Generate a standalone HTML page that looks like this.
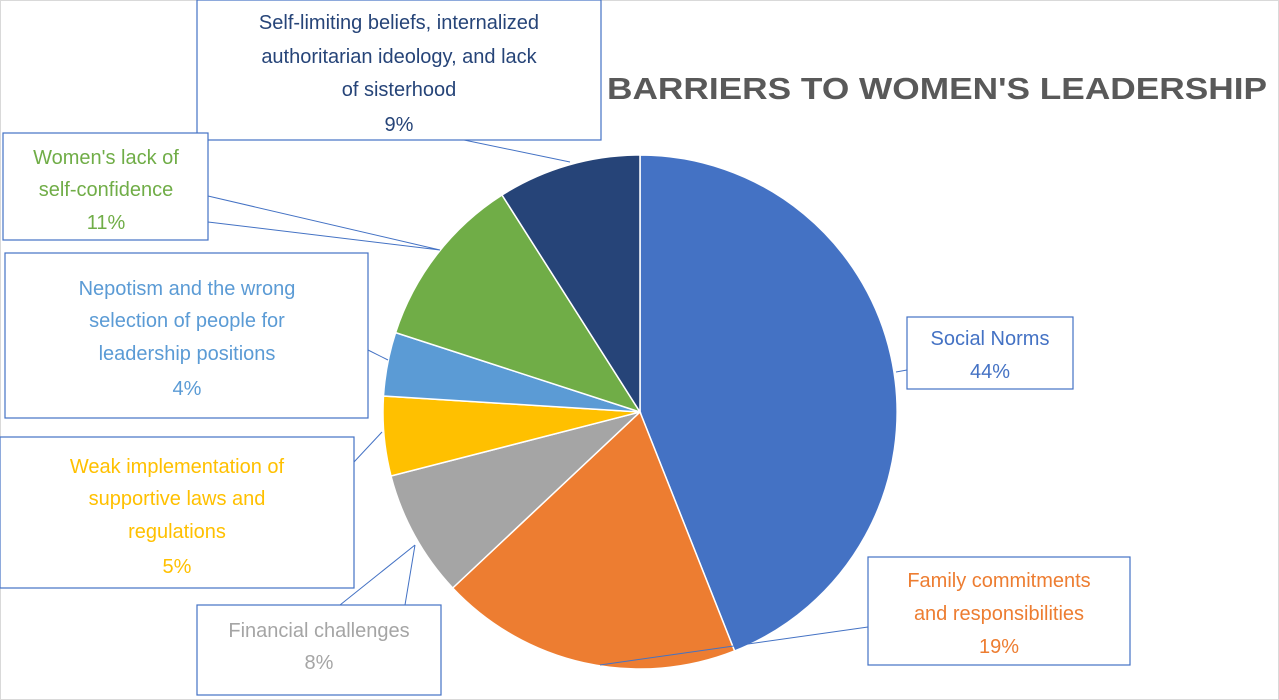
<!DOCTYPE html>
<html><head><meta charset="utf-8"><style>
html,body{margin:0;padding:0;background:#fff;}
svg{display:block;}
text{font-family:"Liberation Sans",sans-serif;font-size:20px;text-anchor:middle;}
</style></head><body>
<svg width="1279" height="700" viewBox="0 0 1279 700" xmlns="http://www.w3.org/2000/svg">
<rect x="0.5" y="0.5" width="1278" height="699" fill="#fff" stroke="#d9d9d9"/>
<text x="937" y="99" style="font-size:31px;font-weight:bold" fill="#595959" textLength="660" lengthAdjust="spacingAndGlyphs">BARRIERS TO WOMEN'S LEADERSHIP</text>
<g stroke="#fff" stroke-width="1.5">
<path d="M640,412 L640,155 A257,257 0 0,1 734.6,651 Z" fill="#4472C4"/>
<path d="M640,412 L734.6,651 A257,257 0 0,1 452.7,588 Z" fill="#ED7D31"/>
<path d="M640,412 L452.7,588 A257,257 0 0,1 391,476 Z" fill="#A5A5A5"/>
<path d="M640,412 L391,476 A257,257 0 0,1 383.5,396 Z" fill="#FFC000"/>
<path d="M640,412 L383.5,396 A257,257 0 0,1 395.6,332.6 Z" fill="#5B9BD5"/>
<path d="M640,412 L395.6,332.6 A257,257 0 0,1 502,195 Z" fill="#70AD47"/>
<path d="M640,412 L502,195 A257,257 0 0,1 640,155 Z" fill="#264478"/>
</g>
<g stroke="#4472C4" stroke-width="1" fill="none">
<path d="M440,135 L570,162"/>
<path d="M208,196 L440,250 M208,222 L440,250"/>
<path d="M368,350 L388,360"/>
<path d="M354,462 L382,432"/>
<path d="M340,605 L415,545 M405,605 L415,545"/>
<path d="M868,627 L600,665"/>
<path d="M907,370 L896,372"/>
</g>
<g fill="#fff" stroke="#4472C4" stroke-width="1.2">
<rect x="197" y="0" width="404" height="140"/>
<rect x="3" y="133" width="205" height="107"/>
<rect x="5" y="253" width="363" height="165"/>
<rect x="0" y="437" width="354" height="151"/>
<rect x="197" y="605" width="244" height="90"/>
<rect x="907" y="317" width="166" height="72"/>
<rect x="868" y="557" width="262" height="108"/>
</g>
<g fill="#264478"><text x="399" y="29">Self-limiting beliefs, internalized</text><text x="399" y="63">authoritarian ideology, and lack</text><text x="399" y="96">of sisterhood</text><text x="399" y="131">9%</text></g>
<g fill="#70AD47"><text x="106" y="164">Women's lack of</text><text x="106" y="196">self-confidence</text><text x="106" y="229">11%</text></g>
<g fill="#5B9BD5"><text x="187" y="295">Nepotism and the wrong</text><text x="187" y="327">selection of people for</text><text x="187" y="360">leadership positions</text><text x="187" y="395">4%</text></g>
<g fill="#FFC000"><text x="177" y="473">Weak implementation of</text><text x="177" y="505">supportive laws and</text><text x="177" y="538">regulations</text><text x="177" y="573">5%</text></g>
<g fill="#A5A5A5"><text x="319" y="637">Financial challenges</text><text x="319" y="669">8%</text></g>
<g fill="#4472C4"><text x="990" y="345">Social Norms</text><text x="990" y="378">44%</text></g>
<g fill="#ED7D31"><text x="999" y="587">Family commitments</text><text x="999" y="620">and responsibilities</text><text x="999" y="653">19%</text></g>
</svg>
</body></html>
